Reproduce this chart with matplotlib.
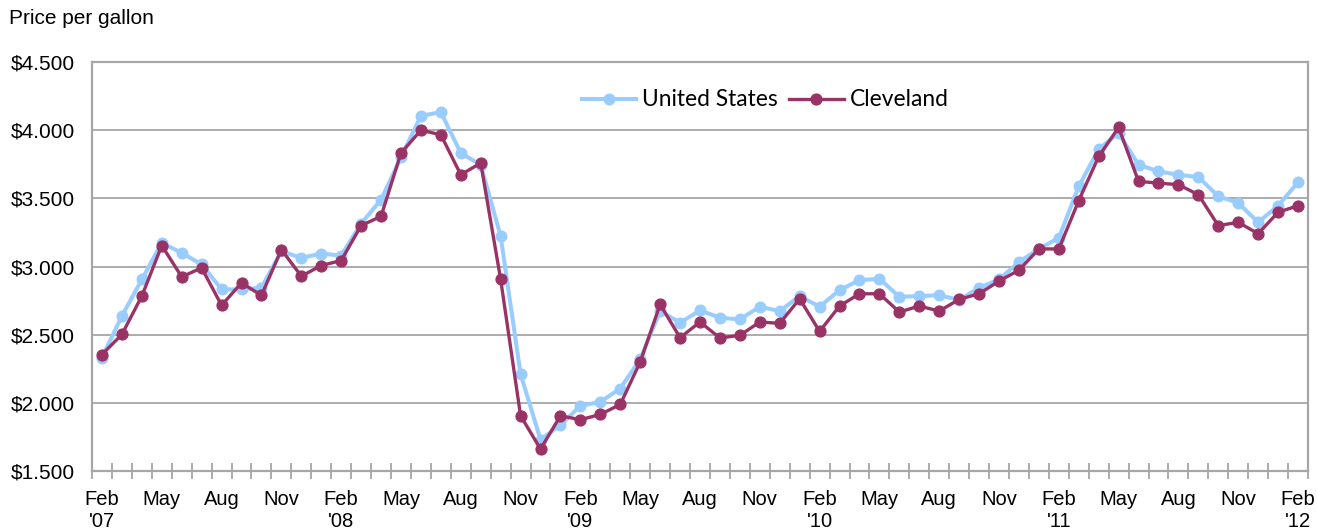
import matplotlib
matplotlib.use("Agg")
import matplotlib.pyplot as plt
from matplotlib.ticker import FixedLocator, FuncFormatter

months = ["Feb '07","Mar","Apr","May","Jun","Jul","Aug","Sep","Oct","Nov","Dec",
          "Jan '08","Feb","Mar","Apr","May","Jun","Jul","Aug","Sep","Oct","Nov","Dec",
          "Jan '09","Feb","Mar","Apr","May","Jun","Jul","Aug","Sep","Oct","Nov","Dec",
          "Jan '10","Feb","Mar","Apr","May","Jun","Jul","Aug","Sep","Oct","Nov","Dec",
          "Jan '11","Feb","Mar","Apr","May","Jun","Jul","Aug","Sep","Oct","Nov","Dec",
          "Jan '12","Feb"]

united_states = [2.332, 2.637, 2.905, 3.173, 3.100, 3.015, 2.832, 2.832, 2.844, 3.112, 3.063,
                 3.095, 3.080, 3.315, 3.490, 3.800, 4.105, 4.132, 3.832, 3.746, 3.222, 2.210, 1.730,
                 1.837, 1.978, 2.007, 2.105, 2.320, 2.673, 2.588, 2.678, 2.624, 2.612, 2.705, 2.673,
                 2.783, 2.705, 2.827, 2.900, 2.910, 2.778, 2.783, 2.790, 2.754, 2.844, 2.905, 3.032,
                 3.130, 3.210, 3.588, 3.861, 3.978, 3.746, 3.698, 3.673, 3.656, 3.515, 3.466, 3.324,
                 3.446, 3.617]

cleveland = [2.354, 2.502, 2.783, 3.154, 2.924, 2.990, 2.715, 2.880, 2.788, 3.124, 2.929,
             3.007, 3.044, 3.300, 3.368, 3.832, 4.000, 3.966, 3.673, 3.759, 2.905, 1.905, 1.661,
             1.905, 1.876, 1.915, 1.988, 2.300, 2.722, 2.478, 2.593, 2.476, 2.495, 2.593, 2.583,
             2.763, 2.524, 2.710, 2.800, 2.800, 2.666, 2.710, 2.673, 2.759, 2.800, 2.893, 2.973,
             3.129, 3.129, 3.483, 3.807, 4.020, 3.624, 3.612, 3.600, 3.527, 3.300, 3.324, 3.241,
             3.398, 3.446]

xtick_labels = ["Feb\n'07","May","Aug","Nov","Feb\n'08","May","Aug","Nov","Feb\n'09","May","Aug","Nov",
                "Feb\n'10","May","Aug","Nov","Feb\n'11","May","Aug","Nov","Feb\n'12"]
yticks = [1.5, 2.0, 2.5, 3.0, 3.5, 4.0, 4.5]

US_COLOR = "#99CCFF"
CLE_COLOR = "#993366"
GRID = "#A6A6A6"

W, H = 1317, 529
fig = plt.figure(figsize=(W / 100, H / 100), dpi=100)
ax = fig.add_axes([92 / W, 1 - 471 / H, (1308 - 92) / W, (471 - 62) / H])

x = list(range(len(months)))
ax.plot(x, united_states, color=US_COLOR, lw=2.9, marker="o", ms=7.6,
        markerfacecolor=US_COLOR, markeredgecolor=US_COLOR, label="United States", zorder=3)
ax.plot(x, cleveland, color=CLE_COLOR, lw=2.4, marker="o", ms=7.8,
        markerfacecolor=CLE_COLOR, markeredgecolor=CLE_COLOR, label="Cleveland", zorder=4)

ax.set_xlim(-0.5, len(months) - 0.5)
ax.set_ylim(1.5, 4.5)

ax.yaxis.set_major_locator(FixedLocator(yticks))
ax.yaxis.set_major_formatter(FuncFormatter(lambda v, p: f"${v:.3f}"))
ax.grid(axis="y", color=GRID, lw=1.3, zorder=0)
ax.set_axisbelow(True)

ax.set_xticks(list(range(0, len(months), 3)))
ax.set_xticklabels(xtick_labels, linespacing=1.2)
ax.set_xticks([i - 0.5 for i in range(len(months) + 1)], minor=True)
ax.tick_params(axis="x", which="major", length=0, pad=14, labelsize=14.5)
ax.tick_params(axis="x", which="minor", direction="inout", length=11, width=1.3, color=GRID)
ax.tick_params(axis="y", which="major", length=0, pad=12.5, labelsize=15)

for lab in ax.get_xticklabels() + ax.get_yticklabels():
    lab.set_fontfamily("Liberation Sans")

for s in ax.spines.values():
    s.set_color(GRID)
    s.set_linewidth(1.6)

fig.text(9 / W, 1 - 19 / H, "Price per gallon", fontsize=15, family="Liberation Sans",
         ha="left", va="center")

leg = ax.legend(loc="center", bbox_to_anchor=(765 / W, 1 - 100 / H), bbox_transform=fig.transFigure,
                ncol=2, frameon=False, prop={"family": "Lato", "size": 16.4},
                handlelength=2.4, handletextpad=0.25, columnspacing=0.5)

fig.savefig("out.png", dpi=100)
